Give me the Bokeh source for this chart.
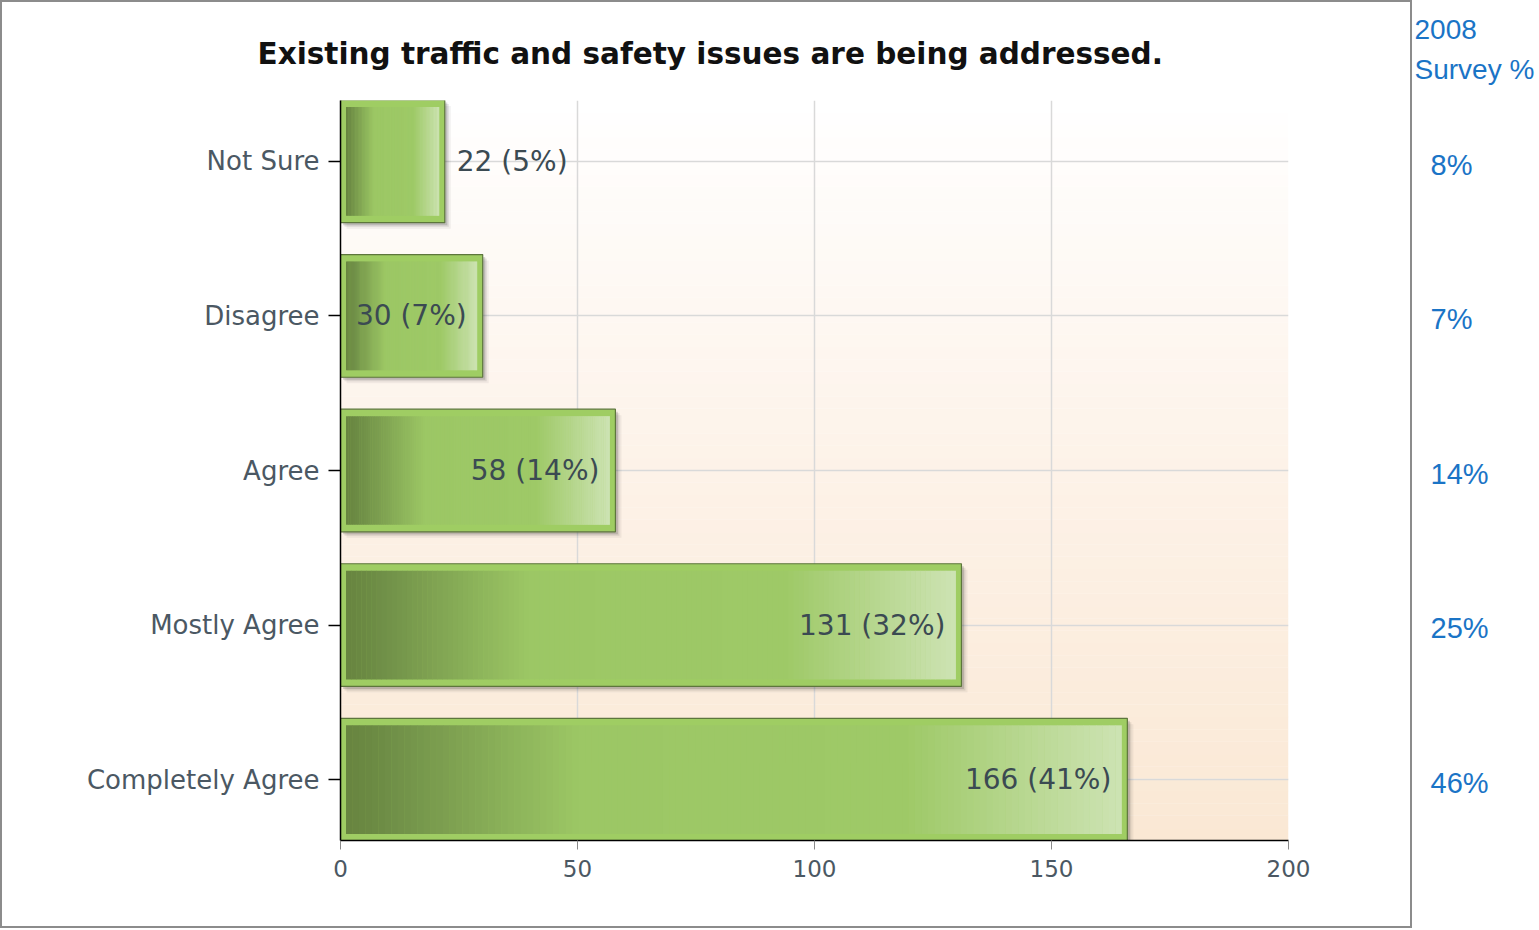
import numpy as np
from bokeh.plotting import figure
from bokeh.models import Range1d, FixedTicker, Title
from bokeh.layouts import row
from bokeh.core.properties import value
from bokeh.embed import file_html
from bokeh.resources import INLINE

# ---------------- data ----------------
categories = ["Not Sure", "Disagree", "Agree", "Mostly Agree", "Completely Agree"]
counts = [22, 30, 58, 131, 166]
percents = [5, 7, 14, 32, 41]
survey_2008 = [8, 7, 14, 25, 46]
x_ticks = [0, 50, 100, 150, 200]
title_text = "Existing traffic and safety issues are being addressed."
survey_header = ["2008", "Survey %"]

# ---------------- layout ----------------
BW = 2                        # css border width of the boxed chart
W1, H1 = 1412, 928            # outer size of the boxed chart (border-box)
FL, FT = 340, 98              # frame left/top on the page
FW, FH = 948, 742             # frame size
ML, MT = FL - BW, FT - BW
MR = W1 - ML - FW
MB = H1 - MT - FH
XMAX = x_ticks[-1]
PXX = FW / XMAX               # px per x unit
PXY = 155.0                   # px per category band
n = len(categories)
Y0 = 0.5 - 61.0 / PXY
Y1 = Y0 + FH / PXY
yc = [n - 0.5 - i for i in range(n)]
HB = 61.5 / PXY               # bar half height


def hex2rgb(h):
    h = h.lstrip("#")
    return np.array([int(h[i:i + 2], 16) for i in (0, 2, 4)], dtype=float)


def rgb2hex(c):
    c = np.clip(np.round(c), 0, 255).astype(int)
    return "#%02x%02x%02x" % tuple(c)


def grad(stops, t):
    for (t0, c0), (t1, c1) in zip(stops[:-1], stops[1:]):
        if t <= t1:
            f = 0 if t1 == t0 else (t - t0) / (t1 - t0)
            return rgb2hex(hex2rgb(c0) * (1 - f) + hex2rgb(c1) * f)
    return stops[-1][1]


p = figure(width=W1, height=H1, x_range=Range1d(0, XMAX), y_range=Range1d(Y0, Y1),
           output_backend="svg", toolbar_location=None, title=title_text,
           min_border_left=ML, min_border_right=MR, min_border_top=MT, min_border_bottom=MB,
           background_fill_color="white", border_fill_color="white", outline_line_color=None)
p.styles = {"border": f"{BW}px solid #8c8c8c"}
p.title.text_font = "DejaVu Sans"
p.title.text_font_style = "bold"
p.title.text_font_size = "29.5px"
p.title.text_color = "#111111"
p.title.align = "left"
p.title.offset = 257 - FL
p.title.standoff = 60

# background vertical gradient (white -> peach)
NB = 60
bg_stops = [(0, "#fae8d4"), (0.5, "#fdf2e8"), (1, "#ffffff")]
ys = np.linspace(Y0, Y1, NB + 1)
bg_cols = [grad(bg_stops, (k + 0.5) / NB) for k in range(NB)]
p.quad(left=0, right=XMAX, bottom=ys[:-1], top=ys[1:] + 0.002, fill_color=bg_cols,
       line_color=None, level="image")

# shadows
for d, a in [(6, 0.06), (4, 0.10), (2.5, 0.16)]:
    p.quad(left=[d / PXX] * n, right=[c + d / PXX for c in counts],
           bottom=[y - HB - d / PXY for y in yc], top=[y + HB - d / PXY for y in yc],
           fill_color="#222222", fill_alpha=a, line_color=None)

# outer bar
p.quad(left=[0] * n, right=counts, bottom=[y - HB for y in yc], top=[y + HB for y in yc],
       fill_color="#9fcd63", line_color="#5d763c", line_width=1.2)

# inner gradient
bar_stops = [(0, "#67843f"), (0.05, "#6e8d46"), (0.30, "#9cc765"), (0.72, "#9ec967"), (1, "#cde3b3")]
NS = 120
ix, iy = 5.5 / PXX, 7.0 / PXY
L, R, B, T, C = [], [], [], [], []
for c, y in zip(counts, yc):
    x0, x1 = ix, c - ix
    edges = np.linspace(x0, x1, NS + 1)
    for k in range(NS):
        L.append(edges[k])
        R.append(min(edges[k + 1] + 0.4 / PXX, x1))
        B.append(y - HB + iy)
        T.append(y + HB - iy)
        C.append(grad(bar_stops, (k + 0.5) / NS))
p.quad(left=L, right=R, bottom=B, top=T, fill_color=C, line_color=None)

# value labels
labels = [f"{c} ({q}%)" for c, q in zip(counts, percents)]
inside = [c * PXX > 130 for c in counts]
xi = [c - 16 / PXX for c, ins in zip(counts, inside) if ins]
yi = [y for y, ins in zip(yc, inside) if ins]
ti = [t for t, ins in zip(labels, inside) if ins]
xo = [c + 12 / PXX for c, ins in zip(counts, inside) if not ins]
yo = [y for y, ins in zip(yc, inside) if not ins]
to = [t for t, ins in zip(labels, inside) if not ins]
p.text(x=xi, y=yi, text=ti, text_font=value("DejaVu Sans"), text_font_size="28px",
       text_color="#3b4a52", text_align="right", text_baseline="middle")
p.text(x=xo, y=yo, text=to, text_font=value("DejaVu Sans"), text_font_size="28px",
       text_color="#3b4a52", text_align="left", text_baseline="middle")

# axes
p.xaxis.ticker = FixedTicker(ticks=x_ticks)
p.yaxis.ticker = FixedTicker(ticks=yc)
p.yaxis.major_label_overrides = {float(y): c for y, c in zip(yc, categories)}
for ax in (p.xaxis[0], p.yaxis[0]):
    ax.axis_line_color = "black"
    ax.axis_line_width = 1.5
    ax.minor_tick_line_color = None
    ax.major_tick_in = 0
    ax.major_label_text_font = "DejaVu Sans"
    ax.major_label_text_color = "#4b5863"
p.xaxis.major_tick_out = 9
p.xaxis.major_tick_line_color = "#8a8a8a"
p.xaxis.major_label_text_font_size = "23px"
p.xaxis.major_label_standoff = 10
p.yaxis.major_tick_out = 12
p.yaxis.major_tick_line_color = "black"
p.yaxis.major_tick_line_width = 1.5
p.yaxis.major_label_text_font_size = "26px"
p.yaxis.major_label_standoff = 9
p.xgrid.grid_line_color = "#d9d9d9"
p.xgrid.grid_line_width = 1.5
p.ygrid.grid_line_color = "#d9d9d9"
p.ygrid.grid_line_width = 1.5

# ---------------- right side: 2008 survey ----------------
W2, H2 = 1539 - W1, H1
q = figure(width=W2, height=H2, x_range=Range1d(0, W2), y_range=p.y_range,
           output_backend="svg", toolbar_location=None, title=None,
           min_border_left=0, min_border_right=0, min_border_top=FT, min_border_bottom=H2 - FT - FH,
           x_axis_type=None, y_axis_type=None, outline_line_color=None,
           background_fill_color="white", border_fill_color="white")
q.grid.visible = False
for txt, so in [(survey_header[1], 27), (survey_header[0], 0)]:
    q.add_layout(Title(text=txt, align="left", offset=2, standoff=so,
                       text_font="Liberation Sans", text_font_size="28px",
                       text_font_style="normal", text_color="#1a74c6"), "above")
q.text(x=[18] * n, y=[y - 0.035 for y in yc], text=[f"{v}%" for v in survey_2008],
       text_font=value("Liberation Sans"), text_font_size="29px", text_color="#1a74c6",
       text_align="left", text_baseline="middle")

layout = row(p, q)
open("out.html", "w").write(file_html(layout, INLINE))
